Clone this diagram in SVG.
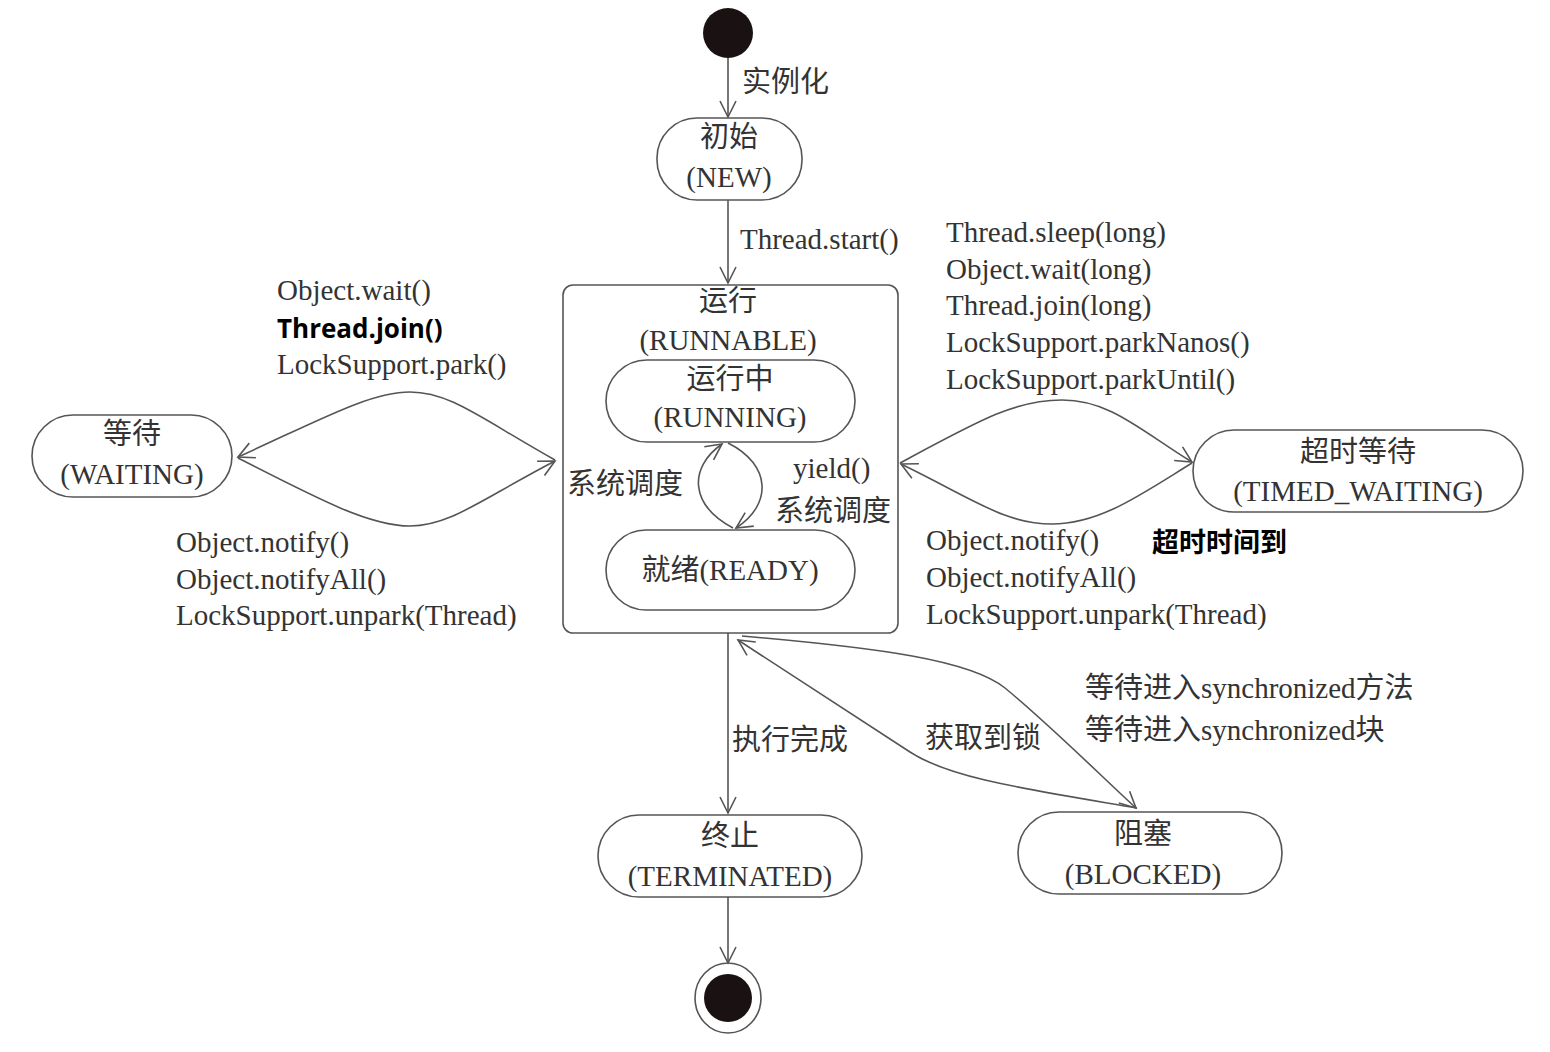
<svg xmlns="http://www.w3.org/2000/svg" width="1550" height="1052" viewBox="0 0 1550 1052">
<defs>
<style>
.node{fill:#fff;stroke:#555;stroke-width:1.6}
.t{font-family:"Liberation Serif","Noto Sans CJK SC",serif;font-size:29px;fill:#333}
.c{text-anchor:middle}
.b{font-family:"Open Sans","Noto Sans CJK SC",sans-serif;font-weight:bold;font-size:26px;fill:#000}
.e{fill:none;stroke:#555;stroke-width:1.6}
</style>
<marker id="ah" viewBox="0 0 20 20" refX="18" refY="10" markerWidth="20" markerHeight="20" markerUnits="userSpaceOnUse" orient="auto">
<path d="M2,2 L18,10 L2,18" fill="none" stroke="#555" stroke-width="1.6"/>
</marker>
</defs>
<rect width="1550" height="1052" fill="#fff"/>

<g id="start"><circle cx="728" cy="33" r="25" fill="#1a1212"/></g>

<g id="new">
<rect class="node" x="657" y="118" width="145" height="82" rx="40"/>
<text class="t c" x="729" y="147">初始</text>
<text class="t c" x="729" y="187">(NEW)</text>
</g>

<g id="runnable">
<rect class="node" x="563" y="285" width="335" height="348" rx="10"/>
<text class="t c" x="728" y="311">运行</text>
<text class="t c" x="728" y="350">(RUNNABLE)</text>
</g>

<g id="running">
<rect class="node" x="606" y="360" width="249" height="82" rx="41"/>
<text class="t c" x="730" y="389">运行中</text>
<text class="t c" x="730" y="427">(RUNNING)</text>
</g>

<g id="ready">
<rect class="node" x="606" y="530" width="249" height="80" rx="40"/>
<text class="t c" x="730" y="580">就绪(READY)</text>
</g>

<g id="waiting">
<rect class="node" x="32" y="415" width="200" height="82" rx="41"/>
<text class="t c" x="132" y="444">等待</text>
<text class="t c" x="132" y="484">(WAITING)</text>
</g>

<g id="timed_waiting">
<rect class="node" x="1193" y="430" width="330" height="82" rx="41"/>
<text class="t c" x="1358" y="462">超时等待</text>
<text class="t c" x="1358" y="501">(TIMED_WAITING)</text>
</g>

<g id="terminated">
<rect class="node" x="598" y="815" width="264" height="82" rx="41"/>
<text class="t c" x="730" y="846">终止</text>
<text class="t c" x="730" y="886">(TERMINATED)</text>
</g>

<g id="blocked">
<rect class="node" x="1018" y="812" width="264" height="82" rx="41"/>
<text class="t c" x="1143" y="844">阻塞</text>
<text class="t c" x="1143" y="884">(BLOCKED)</text>
</g>

<g id="end">
<ellipse cx="728" cy="998" rx="33" ry="35" fill="#fff" stroke="#555" stroke-width="1.6"/>
<circle cx="728" cy="998" r="24" fill="#1a1212"/>
</g>

<g id="connectors">
<path class="e" d="M728,58 L728,117" marker-end="url(#ah)"/>
<path class="e" d="M728,200 L728,283" marker-end="url(#ah)"/>
<path class="e" d="M555,460 C480,418 450,392 410,392 C370,392 320,420 238,457" marker-end="url(#ah)"/>
<path class="e" d="M238,458 C320,500 370,526 410,526 C450,526 480,500 555,461" marker-end="url(#ah)"/>
<path class="e" d="M900,463 C980,420 1015,400 1062,400 C1110,400 1140,430 1192,462" marker-end="url(#ah)"/>
<path class="e" d="M1192,463 C1140,495 1100,524 1052,524 C1005,524 975,500 901,464" marker-end="url(#ah)"/>
<path class="e" d="M733,528 C690,505 688,468 722,444" marker-end="url(#ah)"/>
<path class="e" d="M728,443 C772,465 772,505 736,528" marker-end="url(#ah)"/>
<path class="e" d="M728,633 L728,813" marker-end="url(#ah)"/>
<path class="e" d="M728,897 L728,963" marker-end="url(#ah)"/>
<path class="e" d="M1137,808 C1020,788 950,778 910,752 L738,640" marker-end="url(#ah)"/>
<path class="e" d="M742,636 C880,648 970,660 1005,688 C1050,725 1100,775 1136,808" marker-end="url(#ah)"/>
</g>

<g id="labels">
<text class="t" x="742" y="92">实例化</text>
<text class="t" x="740" y="249">Thread.start()</text>
<text class="t" x="277" y="300">Object.wait()</text>
<text class="b" x="277" y="338">Thread.join()</text>
<text class="t" x="277" y="374">LockSupport.park()</text>
<text class="t" x="176" y="552">Object.notify()</text>
<text class="t" x="176" y="589">Object.notifyAll()</text>
<text class="t" x="176" y="625">LockSupport.unpark(Thread)</text>
<text class="t" x="946" y="242">Thread.sleep(long)</text>
<text class="t" x="946" y="279">Object.wait(long)</text>
<text class="t" x="946" y="315">Thread.join(long)</text>
<text class="t" x="946" y="352">LockSupport.parkNanos()</text>
<text class="t" x="946" y="389">LockSupport.parkUntil()</text>
<text class="t" x="926" y="550">Object.notify()</text>
<text class="t" x="926" y="587">Object.notifyAll()</text>
<text class="t" x="926" y="624">LockSupport.unpark(Thread)</text>
<text class="b" x="1152" y="552" style="font-size:27px">超时时间到</text>
<text class="t" x="567" y="494">系统调度</text>
<text class="t" x="793" y="478">yield()</text>
<text class="t" x="775" y="521">系统调度</text>
<text class="t" x="732" y="750">执行完成</text>
<text class="t" x="925" y="748">获取到锁</text>
<text class="t" x="1085" y="698">等待进入synchronized方法</text>
<text class="t" x="1085" y="740">等待进入synchronized块</text>
</g>
</svg>
